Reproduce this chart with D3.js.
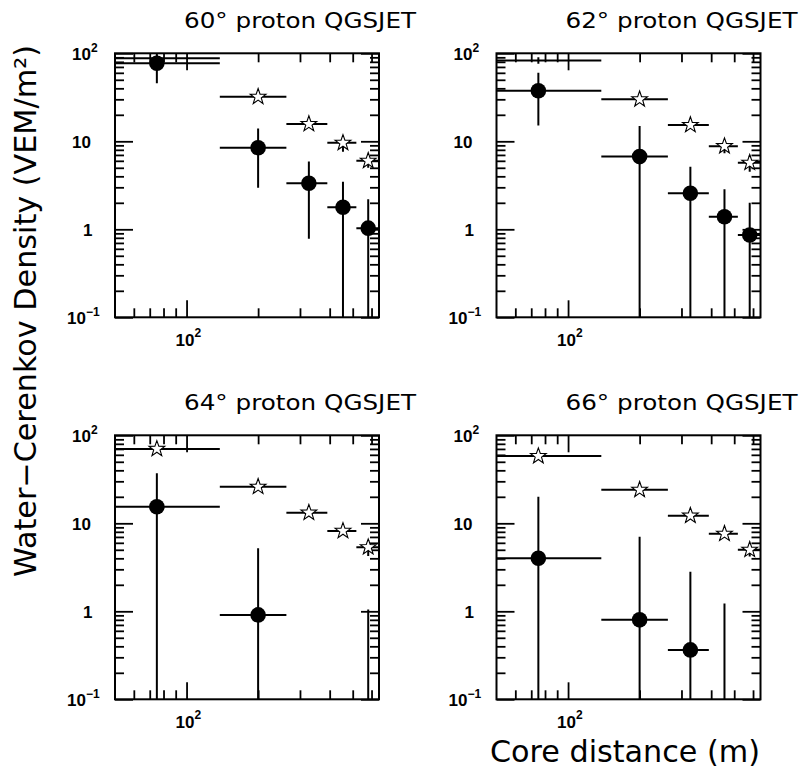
<!DOCTYPE html>
<html><head><meta charset="utf-8">
<script src="https://cdn.jsdelivr.net/npm/d3@7"></script>
<style>body{margin:0;background:#fff}svg{display:block}</style>
</head><body>
<svg id="c" width="807" height="776"></svg>
<script>
// ---------------- data ----------------
const binLow    = [12, 138, 263, 391, 518];
const binHigh   = [138, 263, 391, 518, 645];
const binCenter = [75, 200, 327, 455, 581];
const panelTitles = ["60° proton QGSJET", "62° proton QGSJET", "64° proton QGSJET", "66° proton QGSJET"];
// open stars (simulation)
const simValues = [[88, 32, 15.7, 9.6, 6.0], [83, 30, 15.3, 8.8, 5.7], [70, 26, 13.2, 8.2, 5.35], [58, 24, 12.2, 7.6, 5.0]];
const simErrors = [[7, 2.5, 1.5, 2.0, 1.0], [7, 2.5, 1.5, 1.5, 1.2], [5, 2, 1.2, 0.7, 1.1], [4, 2, 1, 0.7, 0.8]];
// filled circles (data)
const dataValues = [[77, 8.46, 3.33, 1.78, 1.03], [37.6, 6.7, 2.57, 1.39, 0.86], [15.4, 0.91, 0, 0, 0], [4.0, 0.80, 0.364, 0, 0]];
const dataErrors = [[31.4, 5.5, 2.55, 1.7, 1.17], [22.5, 8.2, 2.58, 1.46, 1.14], [21.6, 4.3, 0, 0, 1.05], [16, 6.25, 2.45, 1.23, 0]];
const xDomain = [50, 645];
const yDomain = [0.1, 100];
const xMajorTicks = [100];
const xMinorTicks = [60, 70, 80, 90, 200, 300, 400, 500, 600];
const xTickLabels = [["10", "2"]];
const yMajorTicks = [0.1, 1, 10, 100];
const yMinorTicks = [0.2, 0.3, 0.4, 0.5, 0.6, 0.7, 0.8, 0.9, 2, 3, 4, 5, 6, 7, 8, 9, 20, 30, 40, 50, 60, 70, 80, 90];
const yTickLabels = [["10", "-1"], ["1", ""], ["10", ""], ["10", "2"]];
const yTitle = "Water\u2212Cerenkov Density (VEM/m\u00B2)";
const xTitle = "Core distance (m)";

// ---------------- layout ----------------
const W = 264, H = 264;
const panels = [{x: 115, y: 53.3}, {x: 496.5, y: 53.3}, {x: 115, y: 435.3}, {x: 496.5, y: 435.3}];
const svg = d3.select("#c");
const defs = svg.append("defs");
const x = d3.scaleLog().domain(xDomain).range([0, W]).clamp(true);
const y = d3.scaleLog().domain(yDomain).range([H, 0]).clamp(true);
const font = "'DejaVu Sans', sans-serif";
const tickFont = "'Liberation Sans', Arial, sans-serif";

function starPath(R) {
  const r = R * 0.4;
  const pts = [];
  for (let k = 0; k < 10; k++) {
    const a = -Math.PI / 2 + k * Math.PI / 5;
    const rr = k % 2 === 0 ? R : r;
    pts.push([rr * Math.cos(a), rr * Math.sin(a)]);
  }
  return "M" + pts.map(p => p[0].toFixed(2) + "," + p[1].toFixed(2)).join("L") + "Z";
}
const starR = 8.3, dotR = 7.8;
const inside = (cx, cy, r) => cx - r >= 0 && cx + r <= W && cy - r >= 0 && cy + r <= H;

function styleAxis(sel) {
  sel.select(".domain").remove();
  sel.selectAll(".tick line").attr("stroke", "#000").attr("stroke-width", 1.8);
  sel.selectAll(".tick text").remove();
}

panels.forEach((p, i) => {
  const g = svg.append("g").attr("transform", `translate(${p.x},${p.y})`);
  const cid = "clip" + i;
  defs.append("clipPath").attr("id", cid).append("rect").attr("width", W).attr("height", H);

  // ticks on all four sides pointing inward
  [[xMajorTicks, 17], [xMinorTicks, 9]].forEach(([tv, s]) => {
    g.append("g").call(d3.axisBottom(x).tickValues(tv).tickSize(s)).call(styleAxis);
    g.append("g").attr("transform", `translate(0,${H})`).call(d3.axisTop(x).tickValues(tv).tickSize(s)).call(styleAxis);
  });
  [[yMajorTicks, 18], [yMinorTicks, 9]].forEach(([tv, s]) => {
    g.append("g").call(d3.axisRight(y).tickValues(tv).tickSize(s)).call(styleAxis);
    g.append("g").attr("transform", `translate(${W},0)`).call(d3.axisLeft(y).tickValues(tv).tickSize(s)).call(styleAxis);
  });

  // y tick labels
  yMajorTicks.forEach((v, k) => {
    const [base, sup] = yTickLabels[k];
    const t = g.append("text").attr("font-family", tickFont).attr("font-weight", "bold")
      .attr("font-size", 17).attr("fill", "#000")
      .attr("y", y(v) + 7);
    if (base === "1") t.attr("x", -32); else t.attr("x", sup === "-1" ? -48 : -43);
    t.append("tspan").text(base);
    if (sup) t.append("tspan").attr("font-size", 12).attr("dy", -8).text(sup === "-1" ? "\u22121" : sup);
  });
  // x tick labels
  xMajorTicks.forEach((v, k) => {
    const [base, sup] = xTickLabels[k];
    const t = g.append("text").attr("font-family", tickFont).attr("font-weight", "bold")
      .attr("font-size", 17).attr("fill", "#000")
      .attr("x", x(v) - 11).attr("y", H + 29);
    t.append("tspan").text(base);
    t.append("tspan").attr("font-size", 12).attr("dy", -9).text(sup);
  });

  const pg = g.append("g").attr("clip-path", `url(#${cid})`);
  const bar = (x1, y1, x2, y2) => pg.append("line").attr("x1", x1).attr("y1", y1).attr("x2", x2).attr("y2", y2)
    .attr("stroke", "#000").attr("stroke-width", 2);

  const drawSeries = (vals, errs) => {
    vals.forEach((v, k) => {
      const cx = x(binCenter[k]);
      const e = errs[k];
      if (e > 0) {
        const lo = v - e > 0 ? y(v - e) : H + 10;
        bar(cx, lo, cx, y(v + e));
      }
      if (v > 0) bar(x(binLow[k]), y(v), x(binHigh[k]), y(v));
    });
  };
  drawSeries(simValues[i], simErrors[i]);
  drawSeries(dataValues[i], dataErrors[i]);

  // stars
  simValues[i].forEach((v, k) => {
    const cx = x(binCenter[k]), cy = y(v);
    if (v > 0 && inside(cx, cy, starR)) {
      pg.append("path").attr("d", starPath(starR)).attr("transform", `translate(${cx},${cy})`)
        .attr("fill", "#fff").attr("stroke", "#000").attr("stroke-width", 1.1);
    }
  });
  // filled circles
  dataValues[i].forEach((v, k) => {
    const cx = x(binCenter[k]), cy = y(v);
    if (v > 0 && inside(cx, cy, dotR)) {
      pg.append("circle").attr("cx", cx).attr("cy", cy).attr("r", dotR).attr("fill", "#000");
    }
  });

  g.append("rect").attr("width", W).attr("height", H).attr("fill", "none")
    .attr("stroke", "#000").attr("stroke-width", 2);

  // panel title
  svg.append("text").attr("x", p.x + 69).attr("y", p.y - 25)
    .attr("font-family", font).attr("font-size", 22).attr("fill", "#000")
    .attr("textLength", 232).attr("lengthAdjust", "spacingAndGlyphs")
    .text(panelTitles[i]);
});

// axis titles
svg.append("text").attr("transform", "translate(36,311) rotate(-90)")
  .attr("text-anchor", "middle").attr("font-family", font).attr("font-size", 30).attr("fill", "#000")
  .attr("textLength", 532).attr("lengthAdjust", "spacingAndGlyphs")
  .text(yTitle);
svg.append("text").attr("x", 760).attr("y", 762).attr("text-anchor", "end")
  .attr("font-family", font).attr("font-size", 30).attr("fill", "#000")
  .attr("textLength", 270).attr("lengthAdjust", "spacingAndGlyphs")
  .text(xTitle);
</script>
</body></html>
